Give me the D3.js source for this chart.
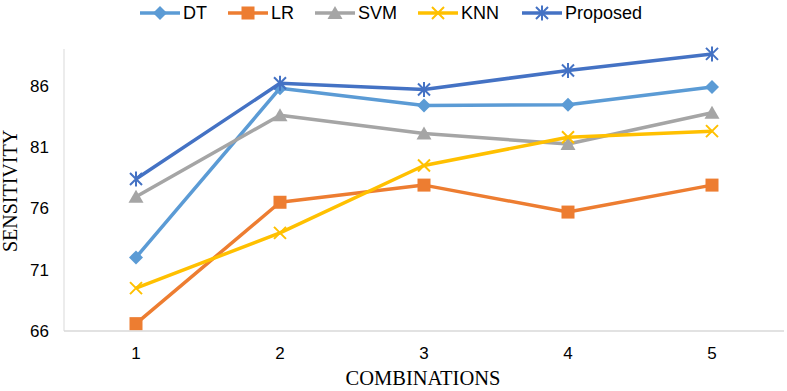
<!DOCTYPE html>
<html>
<head>
<meta charset="utf-8">
<script src="https://cdn.jsdelivr.net/npm/d3@7"></script>
<style>
body { margin: 0; background: #fff; }
svg { display: block; }
.tick text { font-family: "Liberation Sans", Arial, sans-serif; font-size: 17px; fill: #000; }
</style>
</head>
<body>
<svg width="787" height="391"></svg>
<script>
// data
var combinations = ["1", "2", "3", "4", "5"];
var dt       = [72.0, 85.8, 84.4, 84.45, 85.9];
var lr       = [66.6, 76.5, 77.9, 75.7, 77.9];
var svm      = [76.95, 83.6, 82.1, 81.25, 83.8];
var knn      = [69.5, 74.0, 79.5, 81.8, 82.3];
var proposed = [78.4, 86.2, 85.7, 87.25, 88.6];
var yTicks   = [66, 71, 76, 81, 86];

var series = [
	{name: "DT", values: dt, color: "#5B9BD5", marker: "diamond"},
	{name: "LR", values: lr, color: "#ED7D31", marker: "square"},
	{name: "SVM", values: svm, color: "#A5A5A5", marker: "triangle"},
	{name: "KNN", values: knn, color: "#FFC000", marker: "x"},
	{name: "Proposed", values: proposed, color: "#4472C4", marker: "star"}
];

var svg = d3.select("svg");
var plotLeft = 64, plotRight = 784, plotTop = 49, plotBottom = 331;

var x = d3.scaleBand().domain(combinations).range([plotLeft, plotRight]);
var y = d3.scaleLinear().domain([66, 89]).range([plotBottom, plotTop]);

// axes lines
svg.append("line").attr("x1", plotLeft).attr("x2", plotLeft).attr("y1", plotTop).attr("y2", plotBottom)
	.attr("stroke", "#D9D9D9").attr("stroke-width", 1);
svg.append("line").attr("x1", plotLeft).attr("x2", plotRight).attr("y1", plotBottom).attr("y2", plotBottom)
	.attr("stroke", "#D9D9D9").attr("stroke-width", 1.5);

var yAxis = svg.append("g").attr("transform", "translate(" + plotLeft + ",0)")
	.call(d3.axisLeft(y).tickValues(yTicks).tickSize(0).tickPadding(15));
yAxis.select(".domain").remove();

var xAxis = svg.append("g").attr("transform", "translate(0," + plotBottom + ")")
	.call(d3.axisBottom(x).tickSize(0).tickPadding(16));
xAxis.select(".domain").remove();

// axis titles
svg.append("text").attr("x", 423).attr("y", 385).attr("text-anchor", "middle")
	.style("font-family", "'Liberation Serif', 'Times New Roman', serif").style("font-size", "20.5px")
	.text("COMBINATIONS");
svg.append("text").attr("transform", "translate(17,191) rotate(-90)").attr("text-anchor", "middle")
	.style("font-family", "'Liberation Serif', 'Times New Roman', serif").style("font-size", "20px")
	.text("SENSITIVITY");

function drawMarker(g, type, color) {
	if (type == "diamond") {
		g.append("path").attr("d", "M0,-7L7,0L0,7L-7,0Z").attr("fill", color);
	} else if (type == "square") {
		g.append("rect").attr("x", -6.5).attr("y", -6.5).attr("width", 13).attr("height", 13).attr("fill", color);
	} else if (type == "triangle") {
		g.append("path").attr("d", "M0,-7L7.5,6L-7.5,6Z").attr("fill", color);
	} else if (type == "x") {
		g.append("path").attr("d", "M-6,-6L6,6M6,-6L-6,6").attr("stroke", color).attr("stroke-width", 2).attr("fill", "none");
	} else {
		g.append("path").attr("d", "M-6,-6L6,6M6,-6L-6,6M0,-7.5L0,7.5").attr("stroke", color).attr("stroke-width", 2).attr("fill", "none");
	}
}

var line = d3.line()
	.x(function(d, i) { return x(combinations[i]) + x.bandwidth() / 2; })
	.y(function(d) { return y(d); });

series.forEach(function(s) {
	var g = svg.append("g");
	g.append("path").datum(s.values).attr("d", line)
		.attr("fill", "none").attr("stroke", s.color).attr("stroke-width", 3.5).attr("stroke-linejoin", "round");
	s.values.forEach(function(v, i) {
		var m = g.append("g").attr("transform", "translate(" + (x(combinations[i]) + x.bandwidth() / 2) + "," + y(v) + ")");
		drawMarker(m, s.marker, s.color);
	});
});

// legend
var legendX = [140, 228, 315, 418, 522];
series.forEach(function(s, i) {
	var g = svg.append("g").attr("transform", "translate(" + legendX[i] + ",13)");
	g.append("line").attr("x1", 0).attr("x2", 40).attr("stroke", s.color).attr("stroke-width", 3.5);
	var m = g.append("g").attr("transform", "translate(20,0)");
	drawMarker(m, s.marker, s.color);
	g.append("text").attr("x", 43).attr("dy", "0.35em")
		.style("font-family", "'Liberation Sans', Arial, sans-serif").style("font-size", "18px")
		.text(s.name);
});
</script>
</body>
</html>
